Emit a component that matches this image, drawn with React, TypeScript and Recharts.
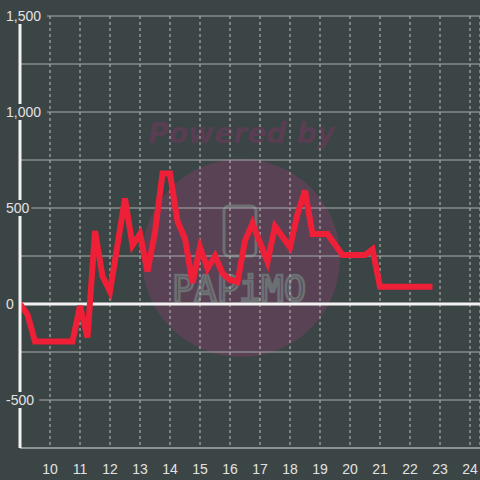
import { LineChart, Line, XAxis, YAxis, CartesianGrid, ReferenceLine } from 'recharts'

const hours = [
  9.0, 9.25, 9.5, 10.75, 11.0, 11.25, 11.5, 11.75, 12.0, 12.5, 12.75, 13.0, 13.25, 13.5, 13.75, 14.0,
  14.25, 14.5, 14.75, 15.0, 15.25, 15.5, 15.75, 16.0, 16.25, 16.5, 16.75, 17.25, 17.5, 18.0, 18.25,
  18.5, 18.75, 19.25, 19.75, 20.5, 20.75, 21.0, 22.75,
]
const values = [
  0, -55, -195, -195, -10, -175, 380, 145, 65, 550, 305, 365, 170, 375, 680, 680,
  430, 340, 110, 295, 185, 250, 160, 125, 115, 330, 420, 220, 405, 295, 470,
  590, 365, 365, 255, 255, 285, 90, 90,
]
const xTicks = [10, 11, 12, 13, 14, 15, 16, 17, 18, 19, 20, 21, 22, 23, 24]
const yTicks = [-750, -500, -250, 0, 250, 500, 750, 1000, 1250, 1500]
const yLabelled = [-500, 0, 500, 1000, 1500]

const data = hours.map((h, i) => ({ h, v: values[i] }))

const BG = '#3c4545'

function YTick({ y, payload }: { y?: number; payload?: { value: number } }) {
  if (!payload || y == null || !yLabelled.includes(payload.value)) return null
  const label = payload.value.toLocaleString('en-US')
  const w = label.length * 7.8 + 4
  return (
    <g>
      <rect x={4} y={y - 8} width={w} height={16} fill={BG} />
      <text x={6} y={y + 5} fill="#e2e2e2" fontSize={14} fontFamily="Liberation Sans, Arial, sans-serif">
        {label}
      </text>
    </g>
  )
}

function XTick({ x, y, payload }: { x?: number; y?: number; payload?: { value: number } }) {
  if (!payload || x == null || y == null) return null
  return (
    <text x={x} y={y + 18} textAnchor="middle" fill="#e2e2e2" fontSize={14} fontFamily="Liberation Sans, Arial, sans-serif">
      {payload.value}
    </text>
  )
}

function Watermark() {
  return (
    <svg width={480} height={480} style={{ position: 'absolute', left: 0, top: 0 }}>
      <circle cx={241} cy={258} r={99} fill="#5a4255" />
      <text
        x={148}
        y={143}
        fontSize={29}
        fontWeight="bold"
        fontStyle="italic"
        fontFamily="DejaVu Sans, sans-serif"
        fill="#593d52"
        textLength={187}
        lengthAdjust="spacingAndGlyphs"
      >
        Powered by
      </text>
      <rect x={224} y={206} width={32} height={50} rx={5} fill="none" stroke="#6b7073" strokeWidth={3} />
      <text
        x={172}
        y={301}
        fontSize={36}
        fontFamily="DejaVu Sans Mono, monospace"
        fill="none"
        stroke="#6b7073"
        strokeWidth={2.5}
        textLength={134}
        lengthAdjust="spacingAndGlyphs"
      >
        PAPiMO
      </text>
    </svg>
  )
}

export default function App() {
  return (
    <div style={{ position: 'absolute', left: 0, top: 0, width: 480, height: 480, background: BG, overflow: 'hidden' }}>
      <Watermark />
      <div style={{ position: 'absolute', left: 0, top: 0 }}>
        <LineChart width={480} height={480} data={data} margin={{ top: 16, right: 0, left: 0, bottom: 0 }}>
          <CartesianGrid horizontal={false} stroke="#bfc2c2" strokeDasharray="3 3" />
          <CartesianGrid vertical={false} stroke="#a9abab" />
          <XAxis
            dataKey="h"
            type="number"
            domain={[9, 24.3333]}
            ticks={xTicks}
            allowDataOverflow
            axisLine={{ stroke: '#a9abab' }}
            tickLine={false}
            tick={<XTick />}
            height={32}
          />
          <YAxis
            type="number"
            domain={[-750, 1500]}
            ticks={yTicks}
            axisLine={{ stroke: '#f2f2f2', strokeWidth: 3 }}
            tickLine={false}
            tick={<YTick />}
            width={20}
          />
          <ReferenceLine y={0} stroke="#f2f2f2" strokeWidth={3} />
          <Line
            dataKey="v"
            type="linear"
            stroke="#ee1f36"
            strokeWidth={6}
            strokeLinejoin="miter"
            dot={false}
            isAnimationActive={false}
          />
        </LineChart>
      </div>
    </div>
  )
}
